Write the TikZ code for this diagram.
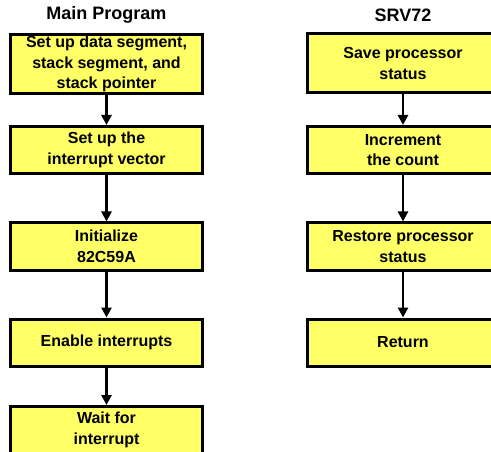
\documentclass[tikz,border=0pt]{standalone}
\usepackage{fontspec}
\setmainfont{Liberation Sans}
\usetikzlibrary{arrows.meta}
\definecolor{boxyellow}{RGB}{255,255,102}
\begin{document}
\begin{tikzpicture}[x=1pt,y=-1pt,
  stepbox/.style={draw=black,line width=3pt,fill=boxyellow,minimum width=192pt,
    minimum height=47pt,align=center,font=\bfseries\fontsize{16}{20.5}\selectfont,inner sep=0pt},
  tallbox/.style={stepbox,minimum height=59pt},
  title/.style={font=\bfseries\fontsize{18}{21}\selectfont},
  conn/.style={line width=2.5pt,-{Triangle[width=10pt,length=10pt]}}]
\useasboundingbox (0,0) rectangle (491,452);
\clip (0,0) rectangle (491,452);
\node[title] (t1) at (106.5,15) {Main Program};
\node[title] (t2) at (403,15) {SRV72};
\node[tallbox] (a1) at (106.5,64) {Set up data segment,\\stack segment, and\\stack pointer};
\node[stepbox] (a2) at (106.5,150) {Set up the\\interrupt vector};
\node[stepbox] (a3) at (106.5,246.5) {Initialize\\82C59A};
\node[stepbox] (a4) at (106.5,342.5) {Enable interrupts};
\node[stepbox] (a5) at (106.5,430) {Wait for\\interrupt};
\node[tallbox] (b1) at (403,63.5) {Save processor\\status};
\node[stepbox] (b2) at (403,150) {Increment\\the count};
\node[stepbox] (b3) at (403,246.5) {Restore processor\\status};
\node[stepbox] (b4) at (403,342.5) {Return};
\draw[conn] (a1) -- (a2);
\draw[conn] (a2) -- (a3);
\draw[conn] (a3) -- (a4);
\draw[conn] (a4) -- (a5);
\draw[conn] (b1) -- (b2);
\draw[conn] (b2) -- (b3);
\draw[conn] (b3) -- (b4);
\end{tikzpicture}
\end{document}
